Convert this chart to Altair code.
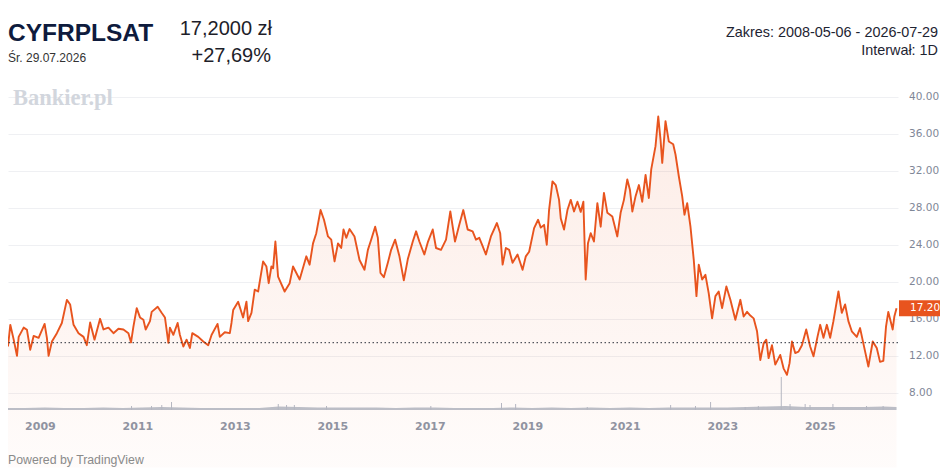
import altair as alt
import pandas as pd

# ---------------- data ----------------
t_year = [
    2008.345, 2008.392, 2008.462, 2008.529, 2008.564, 2008.666, 2008.734, 2008.801, 2008.871, 2008.973,
    2009.096, 2009.143, 2009.178, 2009.246, 2009.348, 2009.450, 2009.553, 2009.620, 2009.690, 2009.792,
    2009.895, 2009.962, 2010.030, 2010.120, 2010.234, 2010.304, 2010.406, 2010.509, 2010.611, 2010.713,
    2010.816, 2010.869, 2010.918, 2010.986, 2011.053, 2011.123, 2011.170, 2011.258, 2011.293, 2011.416,
    2011.497, 2011.565, 2011.635, 2011.667, 2011.737, 2011.825, 2011.872, 2011.942, 2012.009, 2012.077,
    2012.126, 2012.249, 2012.351, 2012.453, 2012.521, 2012.644, 2012.691, 2012.793, 2012.896, 2012.930,
    2012.965, 2013.067, 2013.168, 2013.237, 2013.272, 2013.340, 2013.407, 2013.477, 2013.579, 2013.647,
    2013.694, 2013.749, 2013.784, 2013.831, 2013.886, 2014.021, 2014.124, 2014.193, 2014.329, 2014.466,
    2014.533, 2014.603, 2014.670, 2014.758, 2014.828, 2014.910, 2014.977, 2015.045, 2015.115, 2015.182,
    2015.229, 2015.285, 2015.352, 2015.454, 2015.557, 2015.659, 2015.729, 2015.796, 2015.878, 2015.933,
    2015.987, 2016.056, 2016.138, 2016.206, 2016.288, 2016.376, 2016.466, 2016.548, 2016.650, 2016.718,
    2016.785, 2016.887, 2016.957, 2017.059, 2017.127, 2017.229, 2017.332, 2017.420, 2017.516, 2017.604,
    2017.686, 2017.776, 2017.878, 2017.946, 2018.014, 2018.083, 2018.150, 2018.253, 2018.376, 2018.443,
    2018.493, 2018.560, 2018.627, 2018.697, 2018.799, 2018.902, 2018.969, 2019.037, 2019.139, 2019.221,
    2019.276, 2019.344, 2019.399, 2019.446, 2019.516, 2019.583, 2019.651, 2019.686, 2019.753, 2019.823,
    2019.891, 2019.958, 2020.028, 2020.095, 2020.150, 2020.197, 2020.244, 2020.300, 2020.367, 2020.437,
    2020.505, 2020.572, 2020.642, 2020.744, 2020.846, 2020.914, 2020.982, 2021.051, 2021.105, 2021.154,
    2021.221, 2021.289, 2021.358, 2021.426, 2021.493, 2021.542, 2021.630, 2021.686, 2021.733, 2021.768,
    2021.835, 2021.903, 2021.993, 2022.040, 2022.108, 2022.177, 2022.224, 2022.280, 2022.347, 2022.415,
    2022.470, 2022.517, 2022.587, 2022.654, 2022.722, 2022.791, 2022.859, 2022.926, 2022.996, 2023.084,
    2023.166, 2023.268, 2023.371, 2023.438, 2023.508, 2023.575, 2023.643, 2023.713, 2023.780, 2023.848,
    2023.903, 2023.950, 2024.019, 2024.087, 2024.189, 2024.257, 2024.327, 2024.380, 2024.429, 2024.496,
    2024.564, 2024.634, 2024.722, 2024.803, 2024.871, 2024.953, 2025.008, 2025.076, 2025.145, 2025.213,
    2025.280, 2025.383, 2025.452, 2025.520, 2025.587, 2025.657, 2025.759, 2025.827, 2025.894, 2025.997,
    2026.087, 2026.169, 2026.236, 2026.304, 2026.359, 2026.406, 2026.496, 2026.530, 2026.575,
]
price = [
    13.06, 15.40, 13.80, 12.05, 14.10, 15.10, 14.86, 12.70, 14.20, 14.00,
    15.50, 14.00, 12.05, 13.60, 14.50, 15.60, 18.10, 17.60, 15.40, 14.50,
    14.10, 13.20, 15.65, 13.80, 16.05, 14.90, 15.10, 14.50, 14.97, 14.90,
    14.50, 13.50, 15.20, 17.20, 16.20, 15.95, 14.90, 15.80, 16.80, 17.35,
    16.70, 16.20, 13.45, 15.10, 14.32, 15.60, 14.30, 13.06, 13.80, 12.90,
    14.50, 14.10, 13.60, 13.20, 14.30, 15.50, 14.10, 14.60, 14.50, 15.60,
    17.00, 17.90, 16.20, 17.90, 15.80, 16.70, 19.20, 19.00, 22.25, 21.70,
    19.90, 21.70, 21.50, 24.40, 20.60, 19.00, 19.90, 21.70, 20.30, 22.80,
    21.90, 24.20, 25.30, 27.80, 26.75, 24.95, 24.60, 22.25, 24.20, 23.70,
    25.70, 24.80, 25.75, 24.95, 22.40, 21.35, 23.50, 24.60, 26.00, 24.80,
    21.00, 20.55, 22.10, 23.50, 24.60, 22.80, 20.20, 22.50, 24.40, 25.50,
    24.40, 23.00, 24.30, 25.70, 23.70, 23.50, 24.60, 27.65, 24.40, 26.20,
    27.80, 25.70, 25.50, 24.60, 24.80, 23.90, 23.00, 24.95, 26.40, 25.30,
    21.90, 23.70, 23.50, 22.10, 23.00, 21.35, 22.80, 23.30, 25.85, 26.75,
    25.90, 26.20, 24.05, 27.80, 30.90, 30.50, 28.90, 26.90, 25.70, 27.80,
    28.90, 27.65, 28.70, 27.60, 28.70, 20.30, 24.20, 25.30, 24.40, 28.55,
    26.00, 29.65, 27.50, 27.10, 24.95, 27.50, 28.90, 31.10, 30.00, 27.65,
    29.30, 30.50, 28.70, 31.60, 29.10, 32.20, 34.70, 37.90, 35.40, 32.90,
    37.40, 35.20, 34.90, 33.80, 31.45, 29.30, 27.30, 28.55, 26.00, 22.40,
    18.50, 21.90, 20.30, 20.80, 18.80, 16.10, 18.50, 19.00, 17.20, 19.55,
    18.10, 15.95, 18.10, 16.30, 16.80, 16.40, 16.10, 14.70, 11.60, 13.40,
    13.80, 11.80, 13.20, 11.10, 12.15, 10.70, 10.00, 11.26, 13.60, 12.35,
    12.50, 13.20, 14.90, 13.06, 12.00, 14.10, 15.40, 14.00, 15.40, 14.00,
    15.80, 19.00, 16.70, 17.60, 15.80, 14.70, 14.10, 15.05, 13.40, 10.90,
    13.60, 12.90, 11.40, 11.50, 15.20, 16.80, 14.90, 16.30, 17.20,
]

# volume (relative heights) – background band and visible spikes
vol_t = [2008.345, 2008.7, 2009.1, 2009.5, 2009.9, 2010.3, 2010.7, 2011.1, 2011.5, 2011.9,
         2012.3, 2012.7, 2013.1, 2013.5, 2013.9, 2014.3, 2014.7, 2015.1, 2015.5, 2015.9,
         2016.3, 2016.7, 2017.1, 2017.5, 2017.9, 2018.3, 2018.7, 2019.1, 2019.5, 2019.9,
         2020.3, 2020.7, 2021.1, 2021.5, 2021.9, 2022.3, 2022.7, 2023.1, 2023.5, 2023.9,
         2024.3, 2024.7, 2025.1, 2025.5, 2025.9, 2026.3, 2026.575]
vol_v = [2.0, 2.0, 2.5, 2.0, 2.0, 2.5, 2.0, 2.5, 3.0, 2.5,
         2.0, 2.0, 2.0, 2.0, 3.5, 3.0, 2.5, 2.5, 2.5, 2.5,
         2.0, 2.5, 2.5, 2.0, 2.0, 2.0, 2.5, 2.0, 2.5, 2.0,
         2.5, 2.0, 2.5, 2.0, 2.5, 2.5, 2.5, 2.5, 3.0, 3.5,
         4.0, 3.0, 3.0, 3.0, 3.0, 3.5, 3.0]
spike_t = [2010.88, 2011.29, 2011.50, 2011.70, 2013.89, 2014.06, 2014.22, 2014.88, 2017.02,
           2018.47, 2018.76, 2020.23, 2021.94, 2022.45, 2022.76, 2023.47, 2023.74, 2024.21,
           2024.39, 2024.70, 2024.80, 2025.27, 2025.96, 2026.30]
spike_v = [4, 4, 5, 8, 6, 5, 5, 4, 4,
           7, 6, 3, 5, 4, 8, 3, 4, 33,
           6, 6, 5, 6, 4, 4]

last_price = 17.20
prev_close = 13.47
y_ticks = [8, 12, 16, 20, 24, 28, 32, 36, 40]
y_tick_labels = ["8.00", "12.00", "16.00", "20.00", "24.00", "28.00", "32.00", "36.00", "40.00"]
x_ticks = [2009, 2011, 2013, 2015, 2017, 2019, 2021, 2023, 2025]

ticker = "CYFRPLSAT"
date_txt = "Śr. 29.07.2026"
price_txt = "17,2000 zł"
change_txt = "+27,69%"
range_txt = "Zakres: 2008-05-06 - 2026-07-29"
interval_txt = "Interwał: 1D"
watermark = "Bankier.pl"
powered = "Powered by TradingView"

# ---------------- chart ----------------
W, H = 890, 324
ORANGE = "#e8541e"

df = pd.DataFrame({"t": t_year, "v": price})
vol_df = pd.DataFrame({"t": vol_t, "h": vol_v})
spk_df = pd.DataFrame({"t": spike_t, "h": spike_v})
last_df = pd.DataFrame({"v": [last_price], "s": [f"{last_price:.2f}"]})
prev_df = pd.DataFrame({"v": [prev_close]})
ytick_df = pd.DataFrame({"v": y_ticks, "s": y_tick_labels})

xscale = alt.Scale(domain=[2008.345, 2026.605], nice=False, zero=False)
xaxis = alt.Axis(values=x_ticks, format="d", title=None, grid=False, ticks=False, domain=False,
                 labelFont="DejaVu Sans", labelFontWeight="bold", labelFontSize=11,
                 labelColor="#8d95a5", labelPadding=10, labelFlush=False)
yscale = alt.Scale(domain=[6.2, 41.2], nice=False, zero=False)
yaxis = alt.Axis(orient="right", values=y_ticks, title=None, ticks=False, domain=False,
                 grid=True, gridColor="#eff0f3", gridWidth=1, labels=False)

X = alt.X("t:Q", scale=xscale, axis=xaxis)
Y = alt.Y("v:Q", scale=yscale, axis=yaxis)

area = alt.Chart(df).mark_area(
    color=alt.Gradient(gradient="linear",
                       stops=[alt.GradientStop(color="rgba(232,84,30,0.11)", offset=0),
                              alt.GradientStop(color="rgba(232,84,30,0.02)", offset=1)],
                       x1=0, x2=0, y1=0, y2=1)
).encode(x=X, y=Y)

line = alt.Chart(df).mark_line(color=ORANGE, strokeWidth=1.9, strokeJoin="round").encode(x=X, y=Y)

prev_rule = alt.Chart(prev_df).mark_rule(color="#2b2f3a", strokeDash=[1.5, 2.5], strokeWidth=1).encode(y=Y)

ytick_txt = alt.Chart(ytick_df).mark_text(
    align="left", baseline="middle", font="DejaVu Sans", fontSize=10.5, color="#7f8797"
).encode(x=alt.value(W + 11), y=Y, text="s:N")

box = alt.Chart(last_df).mark_point(
    shape="M-1,-0.32L1,-0.32L1,0.32L-1,0.32Z", filled=True, size=2500, opacity=1,
    color=ORANGE, strokeWidth=0
).encode(x=alt.value(916), y=Y)

box_txt = alt.Chart(last_df).mark_text(
    align="left", baseline="middle", font="DejaVu Sans", fontSize=10.5, fontWeight="normal", color="white"
).encode(x=alt.value(902), y=Y, text="s:N")

price_layer = alt.layer(area, line, prev_rule, ytick_txt, box, box_txt)

vscale = alt.Scale(domain=[0, H], nice=False, zero=True)
vol_area = alt.Chart(vol_df).mark_area(color="#b3bac7", opacity=0.9).encode(
    x=X, y=alt.Y("h:Q", scale=vscale, axis=None))
vol_spk = alt.Chart(spk_df).mark_rule(color="#b3bac7", strokeWidth=1).encode(
    x=X, y=alt.Y("h:Q", scale=vscale, axis=None), y2=alt.datum(0))
vol_layer = alt.layer(vol_area, vol_spk)


def label(txt, x, y, size, color, align="left", weight="normal", font="Liberation Sans"):
    return alt.Chart(pd.DataFrame({"s": [txt]})).mark_text(
        align=align, baseline="alphabetic", font=font, fontSize=size, fontWeight=weight, color=color
    ).encode(x=alt.value(x), y=alt.value(y), text="s:N")


texts = [
    label(ticker, 0, -45.3, 24.5, "#0e1b3d", weight="bold"),
    label(date_txt, 0, -23.7, 12, "#333333"),
    label(price_txt, 264, -51, 20, "#1e1e2a", align="right"),
    label(change_txt, 263, -24.3, 20, "#1e1e2a", align="right"),
    label(range_txt, 930, -49.5, 14.4, "#1e2432", align="right"),
    label(interval_txt, 930, -31, 14.4, "#1e2432", align="right"),
    label(watermark, 5, 19, 22.5, "#d2d6dd", weight="bold", font="Liberation Serif"),
    label(powered, 0, 378, 12.3, "#8a8a8a"),
]

chart = alt.layer(vol_layer, price_layer, *texts).resolve_scale(y="independent").properties(
    width=W, height=H,
    padding={"left": 0, "top": 78, "right": 42, "bottom": 60},
    autosize=alt.AutoSizeParams(type="none"),
    background="white",
).configure_view(stroke=None)

chart.save("out.html", embed_options={"renderer": "svg", "actions": False})
